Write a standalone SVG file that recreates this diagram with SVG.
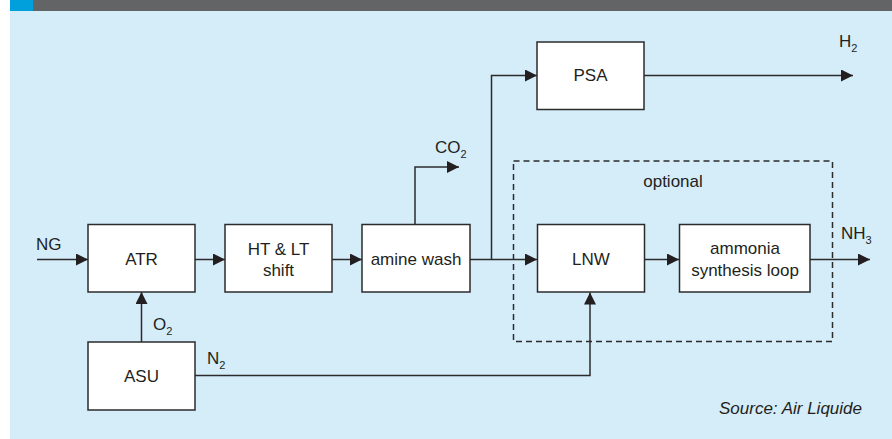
<svg xmlns="http://www.w3.org/2000/svg" width="892" height="439" viewBox="0 0 892 439">
<defs>
<style>
.bx{fill:#ffffff;stroke:#2b2b2b;stroke-width:1.5}
.ln{fill:none;stroke:#2b2b2b;stroke-width:1.5}
.t{font-family:"Liberation Sans",Arial,sans-serif;font-size:17px;fill:#231f20}
.c{text-anchor:middle}
.s{font-size:11px}
</style>
<marker id="ah" viewBox="0 0 12 12" refX="12" refY="6" markerWidth="12" markerHeight="12" markerUnits="userSpaceOnUse" orient="auto">
<path d="M0,0 L12,6 L0,12 Z" fill="#231f20"/>
</marker>
</defs>
<rect x="0" y="0" width="892" height="439" fill="#ffffff"/>
<rect x="10" y="0" width="882" height="11" fill="#636466"/>
<rect x="10" y="0" width="23" height="11" fill="#00a0dc"/>
<rect x="10" y="11" width="882" height="428" fill="#d5ecf9"/>

<g id="connectors">
<path class="ln" d="M37,259.5 H88" marker-end="url(#ah)"/>
<path class="ln" d="M195,259.5 H225" marker-end="url(#ah)"/>
<path class="ln" d="M332,259.5 H362" marker-end="url(#ah)"/>
<path class="ln" d="M470,259.5 H537" marker-end="url(#ah)"/>
<path class="ln" d="M491.5,259.5 V75.5 H537" marker-end="url(#ah)"/>
<path class="ln" d="M644,75.5 H853" marker-end="url(#ah)"/>
<path class="ln" d="M415,224 V167 H459" marker-end="url(#ah)"/>
<path class="ln" d="M645,259.5 H679" marker-end="url(#ah)"/>
<path class="ln" d="M810,259.5 H870" marker-end="url(#ah)"/>
<path class="ln" d="M141.5,342 V292" marker-end="url(#ah)"/>
<path class="ln" d="M195,375.5 H590 V292.5" marker-end="url(#ah)"/>
</g>

<g id="optional">
<rect x="513.5" y="161" width="319" height="180.5" fill="none" stroke="#2b2b2b" stroke-width="1.5" stroke-dasharray="6,4"/>
<text class="t c" x="673" y="187">optional</text>
</g>

<g id="atr"><rect class="bx" x="88" y="224.5" width="107" height="67.5"/><text class="t c" x="141.5" y="265">ATR</text></g>
<g id="shift"><rect class="bx" x="225" y="224.5" width="107" height="67.5"/><text class="t c" x="278.5" y="255">HT &amp; LT</text><text class="t c" x="278.5" y="276">shift</text></g>
<g id="amine"><rect class="bx" x="362" y="224.5" width="108" height="67.5"/><text class="t c" x="416" y="265">amine wash</text></g>
<g id="psa"><rect class="bx" x="537" y="42" width="107" height="67.5"/><text class="t c" x="590.5" y="81">PSA</text></g>
<g id="lnw"><rect class="bx" x="537.5" y="224.5" width="107" height="67.5"/><text class="t c" x="591" y="265">LNW</text></g>
<g id="ammonia"><rect class="bx" x="679.5" y="224.5" width="130.5" height="67.5"/><text class="t c" x="745" y="254">ammonia</text><text class="t c" x="745" y="276">synthesis loop</text></g>
<g id="asu"><rect class="bx" x="88" y="342" width="107" height="68"/><text class="t c" x="141.5" y="382">ASU</text></g>

<g id="labels">
<text class="t" x="36" y="250">NG</text>
<text class="t" x="153" y="330">O<tspan class="s" dy="5">2</tspan></text>
<text class="t" x="207" y="364">N<tspan class="s" dy="5">2</tspan></text>
<text class="t" x="435" y="153">CO<tspan class="s" dy="5">2</tspan></text>
<text class="t" x="839" y="47">H<tspan class="s" dy="5">2</tspan></text>
<text class="t" x="841" y="239">NH<tspan class="s" dy="5">3</tspan></text>
<text class="t" x="862" y="414" text-anchor="end" font-style="italic" font-size="16">Source: Air Liquide</text>
</g>
</svg>
